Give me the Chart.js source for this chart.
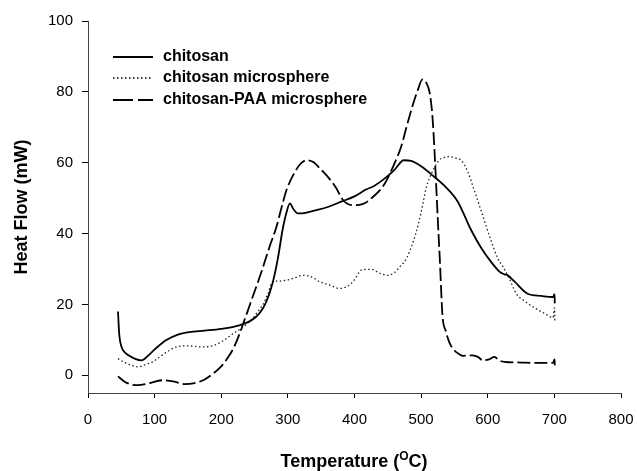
<!DOCTYPE html>
<html>
<head>
<meta charset="utf-8">
<script src="https://cdn.jsdelivr.net/npm/chart.js@4"></script>
<style>
  body { margin: 0; background: #fff; }
  #wrap { width: 637px; height: 471px; }
</style>
</head>
<body>
<div id="wrap"><canvas id="dscChart"></canvas></div>
<script>
// data
var seriesNames = ['chitosan', 'chitosan microsphere', 'chitosan-PAA microsphere'];

var tempChitosan = [45, 47, 50, 55, 62, 70, 80, 90, 100, 117, 135, 152, 175, 200, 227, 245, 257, 267, 277, 285, 292, 298, 303, 308, 315, 325, 340, 360, 380, 400, 418, 430, 445, 460, 474, 485, 500, 518, 535, 555, 575, 590, 605, 618, 625, 630, 640, 660, 680, 698, 700.3, 700.6];
var flowChitosan = [18, 11.3, 8.2, 6.5, 5.5, 4.7, 4.2, 5.5, 7.3, 9.9, 11.5, 12.2, 12.6, 13.1, 14.1, 15.5, 17.4, 20.5, 26, 33, 41, 46, 48.5, 47, 45.7, 45.8, 46.5, 47.5, 49, 50.5, 52.5, 53.5, 55.5, 58, 60.7, 60.5, 59, 56.3, 53.5, 49, 41, 36, 32, 29.2, 28.5, 28.2, 26.5, 23, 22.4, 22.1, 22.9, 20.3];

var tempMicro = [45, 55, 65, 75, 85, 97, 110, 122, 133, 150, 172, 190, 205, 218, 232, 247, 255, 262, 270, 277, 287, 297, 310, 322, 335, 348, 362, 378, 388, 395, 402, 410, 425, 438, 450, 460, 468, 478, 492, 500, 508, 517, 527, 535, 543, 552, 560, 570, 578, 590, 605, 615, 623, 633, 643, 655, 668, 685, 698, 700.3, 700.6];
var flowMicro = [4.7, 3.6, 2.8, 2.4, 2.9, 3.8, 5.5, 7, 8, 8.3, 8, 8.5, 10, 11.8, 13.5, 16, 18, 19.8, 23, 26.4, 26.6, 26.8, 27.5, 28.2, 27.8, 26.4, 25.5, 24.5, 25, 25.9, 27.5, 29.7, 29.9, 28.8, 28.2, 29, 30.6, 33, 40, 46, 53.2, 57.5, 60.7, 61.5, 61.7, 61.3, 60.7, 57.5, 53.2, 46.5, 38, 33, 30.6, 27, 23, 21, 19.3, 17.5, 16.3, 19, 15];

var tempPAA = [45, 55, 65, 75, 90, 112, 130, 145, 160, 175, 188, 200, 210, 218, 226, 233, 245, 260, 272, 283, 290, 298, 308, 318, 328, 338, 350, 360, 372, 383, 397, 412, 428, 445, 460, 470, 478, 487, 495, 502, 508, 513, 517, 520, 523, 525, 528, 532, 537, 543, 550, 557, 563, 575, 585, 593, 602, 610, 617, 625, 650, 675, 698, 700.3, 700.6];
var flowPAA = [-0.3, -1.8, -2.6, -2.8, -2.3, -1.4, -1.8, -2.5, -2.2, -1.2, 0.5, 2.5, 5, 7.5, 11, 14.6, 21, 29, 36, 42, 47, 52.3, 56.5, 59.5, 60.7, 60.2, 58, 56, 53, 49.4, 48, 48.3, 50.4, 54, 59.8, 64.5, 70, 76, 80.5, 83.5, 82.5, 79.6, 73, 63.6, 52, 44, 33, 17, 12.5, 9, 7, 6, 5.5, 5.6, 5.2, 4.2, 4.5, 5.2, 4.2, 3.8, 3.6, 3.5, 3.5, 4.5, 2.8];

var xTicks = [0, 100, 200, 300, 400, 500, 600, 700, 800];
var yTicks = [0, 20, 40, 60, 80, 100];

var fontFam = "'Liberation Sans', Arial, sans-serif";

function pts(xs, ys) {
  return xs.map(function (x, i) { return { x: x, y: ys[i] }; });
}

var lineStyles = [
  { width: 1.8, dash: [] },
  { width: 1.3, dash: [1.5, 2.5] },
  { width: 1.8, dash: [13, 4] }
];

// legend drawn inside the plot, top-left
var insideLegend = {
  id: 'insideLegend',
  afterDraw: function (chart) {
    var c = chart.ctx;
    var rows = [57, 78, 100];
    var legendDash = [[], [1.5, 2.5], [20, 5]];
    c.save();
    c.font = 'bold 16px ' + fontFam;
    c.fillStyle = '#000';
    c.textBaseline = 'middle';
    rows.forEach(function (y, i) {
      c.beginPath();
      c.strokeStyle = '#000';
      c.lineWidth = lineStyles[i].width;
      c.setLineDash(legendDash[i]);
      c.moveTo(113, y);
      c.lineTo(153, y);
      c.stroke();
      c.setLineDash([]);
      c.fillText(seriesNames[i], 163, y);
    });
    c.restore();
  }
};

// x title with superscript O
var xTitle = {
  id: 'xTitle',
  afterDraw: function (chart) {
    var c = chart.ctx;
    var y = 461;
    c.save();
    c.fillStyle = '#000';
    c.textBaseline = 'alphabetic';
    var big = 'bold 18px ' + fontFam, small = 'bold 12px ' + fontFam;
    var a = 'Temperature (', b = 'O', d = 'C)';
    c.font = big; var wa = c.measureText(a).width, wd = c.measureText(d).width;
    c.font = small; var wb = c.measureText(b).width;
    var x = 354 - (wa + wb + wd) / 2;
    c.font = big; c.fillText(a, x, y + 6);
    c.font = small; c.fillText(b, x + wa, y - 1);
    c.font = big; c.fillText(d, x + wa + wb, y + 6);
    c.restore();
  }
};

var ctx = document.getElementById('dscChart').getContext('2d');
var dscChart = new Chart(ctx, {
  type: 'line',
  data: {
    datasets: [
      { label: seriesNames[0], data: pts(tempChitosan, flowChitosan) },
      { label: seriesNames[1], data: pts(tempMicro, flowMicro) },
      { label: seriesNames[2], data: pts(tempPAA, flowPAA) }
    ].map(function (ds, i) {
      ds.borderColor = i === 1 ? '#222' : '#000';
      ds.borderWidth = lineStyles[i].width;
      ds.borderDash = lineStyles[i].dash;
      ds.pointRadius = 0;
      ds.fill = false;
      ds.cubicInterpolationMode = 'monotone';
      return ds;
    })
  },
  options: {
    responsive: true,
    maintainAspectRatio: false,
    animation: false,
    layout: { padding: { left: 0, right: 16, top: 21, bottom: 0 } },
    plugins: { legend: { display: false }, tooltip: { enabled: false } },
    scales: {
      x: {
        type: 'linear',
        min: 0, max: 800,
        afterFit: function (s) { s.height = 78; s.paddingLeft = 0; s.paddingRight = 0; },
        afterBuildTicks: function (s) { s.ticks = xTicks.map(function (v) { return { value: v }; }); },
        border: { display: true, color: '#444', width: 1 },
        grid: { drawOnChartArea: false, drawTicks: true, tickLength: 5, color: '#000' },
        ticks: { color: '#000', padding: 13, maxRotation: 0, font: { family: fontFam, size: 15 } }
      },
      y: {
        min: -5, max: 100,
        afterFit: function (s) { s.width = 88; },
        afterBuildTicks: function (s) { s.ticks = yTicks.map(function (v) { return { value: v }; }); },
        border: { display: true, color: '#444', width: 1 },
        grid: { drawOnChartArea: false, drawTicks: true, tickLength: 6, color: '#000' },
        ticks: { color: '#000', padding: 9, font: { family: fontFam, size: 15 } },
        title: {
          display: true,
          text: 'Heat Flow (mW)',
          color: '#000',
          font: { family: fontFam, size: 18, weight: 'bold' },
          padding: { top: 11, bottom: 0 }
        }
      }
    }
  },
  plugins: [insideLegend, xTitle]
});
</script>
</body>
</html>
